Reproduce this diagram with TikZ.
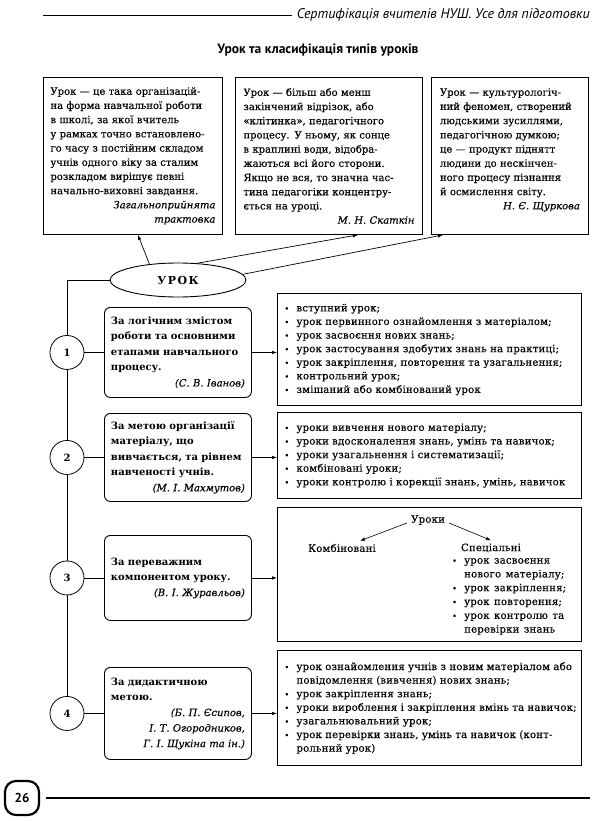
\documentclass[tikz,border=0pt]{standalone}
\usepackage{fontspec}
\setmainfont{DejaVu Serif}[UprightFeatures={FakeBold=0.35},ItalicFeatures={FakeBold=0.35}]
\newfontfamily\rfont{DejaVu Serif}[LetterSpace=2,WordSpace=1.3,FakeBold=0.35]
\newfontfamily\sansf{PT Sans}
\usetikzlibrary{arrows.meta,shapes.geometric,calc}
\newcommand\bl[1]{\mbox{\makebox[12pt][l]{\fontsize{8}{8}\selectfont\textbullet}#1}}
\newcommand\il[1]{\mbox{\hspace*{12pt}#1}}
\newcommand\au[1]{\hspace*{\fill}{\mdseries\itshape #1}}
\begin{document}
\begin{tikzpicture}[x=1pt,y=-1pt,
  every node/.style={inner sep=0pt},
  arr/.style={-{Latex[length=5pt,width=3.6pt]}, line width=0.7pt},
  ln/.style={line width=0.7pt},
  tbox/.style={draw, line width=0.9pt, anchor=north west, align=left, font=\fontsize{10}{14.2}\selectfont},
  lbox/.style={draw, line width=0.9pt, rounded corners=6pt, anchor=north west, align=left, text width=134pt, minimum width=147pt, font=\fontsize{10}{15.5}\selectfont\bfseries},
  rbox/.style={draw, line width=1pt, anchor=north west, align=left, text width=290pt, minimum width=304pt, font=\rfont\fontsize{10.1}{13.6}\selectfont},
  rtxt/.style={font=\rfont\fontsize{10.1}{13}\selectfont},
  num/.style={circle, draw, line width=0.8pt, minimum size=34pt, font=\fontsize{10}{12}\selectfont\bfseries},
]
\useasboundingbox (0,0) rectangle (600,821);

% header
\node[anchor=base east, font=\sansf\itshape\fontsize{14}{16}\selectfont] (hdr) at (590,19) {Сертифікація вчителів НУШ. Усе для підготовки};
\coordinate (hl) at (43,15);
\draw[line width=0.9pt, shorten >=5pt] (hl) -- (hl -| hdr.west);

\node[font=\sansf\bfseries\fontsize{13.5}{15}\selectfont] (title) at (318,50) {Урок та класифікація типів уроків};

% top boxes
\node[tbox, text width=165pt, minimum width=179pt, minimum height=157pt] (b1) at (43,77) {Урок — це така організацій-\\на форма навчальної роботи\\в школі, за якої вчитель\\у рамках точно встановлено-\\го часу з постійним складом\\учнів одного віку за сталим\\розкладом вирішує певні\\начально-виховні завдання.\\\au{Загальноприйнята}\\\au{трактовка}};
\node[tbox, text width=171pt, minimum width=187pt, minimum height=157pt] (b2) at (235,77) {Урок — більш або менш\\закінчений відрізок, або\\«клітинка», педагогічного\\процесу. У ньому, як сонце\\в краплині води, відобра-\\жаються всі його сторони.\\Якщо не вся, то значна час-\\тина педагогіки концентру-\\ється на уроці.\\\au{М. Н. Скаткін}};
\node[tbox, text width=140pt, minimum width=157pt, minimum height=157pt] (b3) at (431,77) {Урок — культурологіч-\\ний феномен, створений\\людськими зусиллями,\\педагогічною думкою;\\це — продукт піднятт\\людини до нескінчен-\\ного процесу пізнання\\й осмислення світу.\\\au{Н. Є. Щуркова}\\\mbox{}};

% ellipse
\node[ellipse, draw, line width=0.9pt, minimum width=136pt, minimum height=34pt, font=\fontsize{11}{13}\selectfont\bfseries] (urok) at (178,280) {У\kern1.5ptР\kern1.5ptО\kern1.5ptК};
\draw[arr] (urok.151) -- ($(b1.south)+(5,0)$);
\draw[arr] (urok.41) -- ($(b2.south)+(29,0)$);
\draw[arr] (urok.5) -- ($(b3.south west)+(12,0)$);

% left boxes
\node[lbox, minimum height=90pt] (l1) at (104,307) {За логічним змістом\\роботи та основними\\етапами навчального\\процесу.\\\au{(С. В. Іванов)}};
\node[lbox, minimum height=88pt] (l2) at (104,413) {За метою організації\\матеріалу, що\\вивчається, та рівнем\\навченості учнів.\\\au{(М. І. Махмутов)}};
\node[lbox, minimum height=85pt] (l3) at (104,535) {За переважним\\компонентом уроку.\\\au{(В. І. Журавльов)}};
\node[lbox, minimum height=92pt] (l4) at (104,667) {За дидактичною\\метою.\\\au{(Б. П. Єсипов,}\\\au{І. Т. Огородников,}\\\au{Г. І. Щукіна та ін.)}};

% circles
\coordinate (cx) at (67,0);
\node[num] (c1) at (l1.west -| cx) {1};
\node[num] (c2) at (l2.west -| cx) {2};
\node[num] (c3) at (l3.west -| cx) {3};
\node[num] (c4) at (l4.west -| cx) {4};
\draw[ln] (urok.west) -| (c1.north);
\draw[ln] (c1.south) -- (c2.north);
\draw[ln] (c2.south) -- (c3.north);
\draw[ln] (c3.south) -- (c4.north);
\foreach \i in {1,2,3,4} \draw[ln] (c\i.east) -- (l\i.west);

% right boxes
\node[rbox, minimum height=112pt] (r1) at (277,293) {\bl{вступний урок;}\\\bl{урок первинного ознайомлення з матеріалом;}\\\bl{урок засвоєння нових знань;}\\\bl{урок застосування здобутих знань на практиці;}\\\bl{урок закріплення, повторення та узагальнення;}\\\bl{контрольний урок;}\\\bl{змішаний або комбінований урок}};
\node[rbox, minimum height=86pt] (r2) at (277,412) {\bl{уроки вивчення нового матеріалу;}\\\bl{уроки вдосконалення знань, умінь та навичок;}\\\bl{уроки узагальнення і систематизації;}\\\bl{комбіновані уроки;}\\\bl{уроки контролю і корекції знань, умінь, навичок}};
\node[draw, line width=1pt, anchor=north west, minimum width=304pt, minimum height=134pt] (r3) at (277,507) {};
\node[rbox, minimum height=115pt] (r4) at (277,650) {\bl{урок ознайомлення учнів з новим матеріалом або}\\\il{повідомлення (вивчення) нових знань;}\\\bl{урок закріплення знань;}\\\bl{уроки вироблення і закріплення вмінь та навичок;}\\\bl{узагальнювальний урок;}\\\bl{урок перевірки знань, умінь та навичок (конт-}\\\il{рольний урок)}};

\foreach \i in {1,2,3,4} \draw[arr] (l\i.east) -- (l\i.east -| r\i.west);

% inside r3
\node[rtxt] (uroki) at (428,520) {Уроки};
\node[rtxt] (komb) at (342,548) {Комбіновані};
\node[rtxt] (spec) at (491,548) {Спеціальні};
\node[anchor=north west, align=left, font=\rfont\fontsize{10.1}{13.8}\selectfont] (slist) at (452,558) {\bl{урок засвоєння}\\\il{нового матеріалу;}\\\bl{урок закріплення;}\\\bl{урок повторення;}\\\bl{урок контролю та}\\\il{перевірки знань}};
\draw[arr, line width=0.6pt] ($(uroki.west)+(-4,3)$) -- ($(komb.north)+(18,-3)$);
\draw[arr, line width=0.6pt] ($(uroki.east)+(4,3)$) -- ($(spec.north)+(0,-3)$);

% footer
\node[draw, line width=2.2pt, rounded corners=11pt, minimum size=34pt, font=\sansf\bfseries\fontsize{13}{15}\selectfont] (pg) at (22,798) {26};
\coordinate (fe) at (590,798);
\draw[line width=1.8pt, shorten <=6pt] (pg.east) -- (fe);
\end{tikzpicture}
\end{document}
